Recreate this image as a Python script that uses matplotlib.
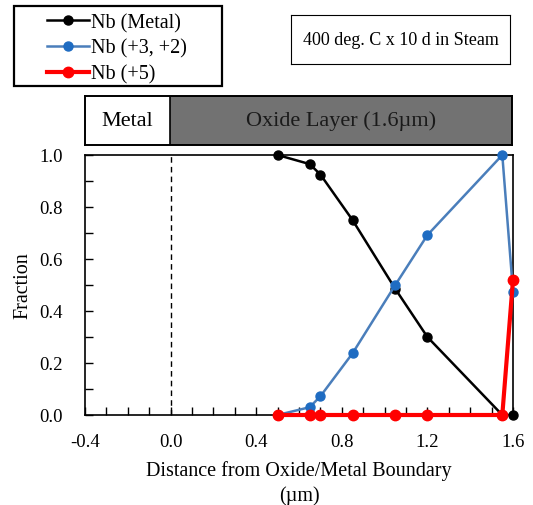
import numpy as np
import matplotlib.pyplot as plt
from matplotlib.ticker import MultipleLocator
from matplotlib.patches import Rectangle

plt.rcParams['font.family'] = ['Liberation Serif', 'DejaVu Serif']

# distance from oxide/metal boundary (um)
dist = [0.5, 0.65, 0.7, 0.85, 1.05, 1.2, 1.55, 1.6]
nb_metal = [1.0, 0.965, 0.925, 0.75, 0.485, 0.30, 0.0, 0.0]
nb_32 = [0.0, 0.03, 0.072, 0.237, 0.50, 0.692, 1.0, 0.475]
nb_5 = [0.0, 0.0, 0.0, 0.0, 0.0, 0.0, 0.0, 0.52]

W, H = 533, 506
fig = plt.figure(figsize=(W / 100, H / 100), dpi=100)

def box(x0, y0, x1, y1):
    # pixel box (top-left origin) -> figure fraction rect
    return [x0 / W, 1 - y1 / H, (x1 - x0) / W, (y1 - y0) / H]

ax = fig.add_axes(box(85, 156, 513, 416))
l1, = ax.plot(dist, nb_metal, color='black', lw=1.8, marker='o', ms=6.5,
              label='Nb (Metal)', zorder=3, clip_on=False)
l2, = ax.plot(dist, nb_32, color='#4a7ebb', lw=1.8, marker='o', ms=6.5,
              mfc='#1f6cc2', mec='#1f6cc2', label='Nb (+3, +2)', zorder=4,
              clip_on=False)
l3, = ax.plot(dist, nb_5, color='red', lw=3, marker='o', ms=7.5,
              label='Nb (+5)', zorder=5, clip_on=False)
ax.plot([0, 0], [0, 1], color='black', ls='--', lw=1, dashes=(4, 3))

ax.set_xlim(-0.4, 1.6)
ax.set_ylim(0, 1.0)
ax.xaxis.set_major_locator(MultipleLocator(0.4))
ax.xaxis.set_minor_locator(MultipleLocator(0.1))
ax.yaxis.set_major_locator(MultipleLocator(0.2))
ax.yaxis.set_minor_locator(MultipleLocator(0.1))
ax.xaxis.set_major_formatter(plt.FormatStrFormatter('%.1f'))
ax.yaxis.set_major_formatter(plt.FormatStrFormatter('%.1f'))
ax.tick_params(which='both', direction='in', length=6, width=1,
               labelsize=13.5, top=False, right=False)
ax.tick_params(axis='x', pad=13)
ax.tick_params(axis='y', pad=16)
for s in ax.spines.values():
    s.set_linewidth(1.2)
ax.set_ylabel('Fraction', fontsize=14.5, labelpad=5)
ax.set_xlabel('Distance from Oxide/Metal Boundary\n(\u00b5m)', fontsize=14.5,
              labelpad=7, linespacing=1.35)

# layer band above the plot
band = fig.add_axes(box(85, 97, 512, 146))
band.set_xlim(-0.4, 1.6)
band.set_ylim(0, 1)
band.add_patch(Rectangle((0, 0), 1.6, 1, facecolor='#727272', edgecolor='black', lw=1.2))
band.text(-0.2, 0.5, 'Metal', ha='center', va='center', fontsize=16)
band.text(0.8, 0.5, 'Oxide Layer (1.6\u00b5m)', ha='center', va='center',
          fontsize=16, color='#1a1a1a')
band.set_xticks([])
band.set_yticks([])
for s in band.spines.values():
    s.set_linewidth(1.4)

# condition box
note = fig.add_axes(box(291, 16, 510, 65))
note.set_xticks([])
note.set_yticks([])
note.text(0.5, 0.5, '400 deg. C x 10 d in Steam', ha='center', va='center',
          fontsize=13, transform=note.transAxes)

# legend frame drawn separately (wide side padding)
fig.add_artist(Rectangle((14 / W, 1 - 87 / H), 208 / W, 80 / H,
                         transform=fig.transFigure, facecolor='none',
                         edgecolor='black', lw=1.6))
leg = fig.legend(handles=[l1, l2, l3], loc='upper left',
                 bbox_to_anchor=(47 / W, 1 - 14 / H), borderaxespad=0,
                 fontsize=14.5, frameon=False, borderpad=0,
                 handlelength=2.1, handletextpad=0.1, labelspacing=0.32)

fig.savefig('out.png', dpi=100)
